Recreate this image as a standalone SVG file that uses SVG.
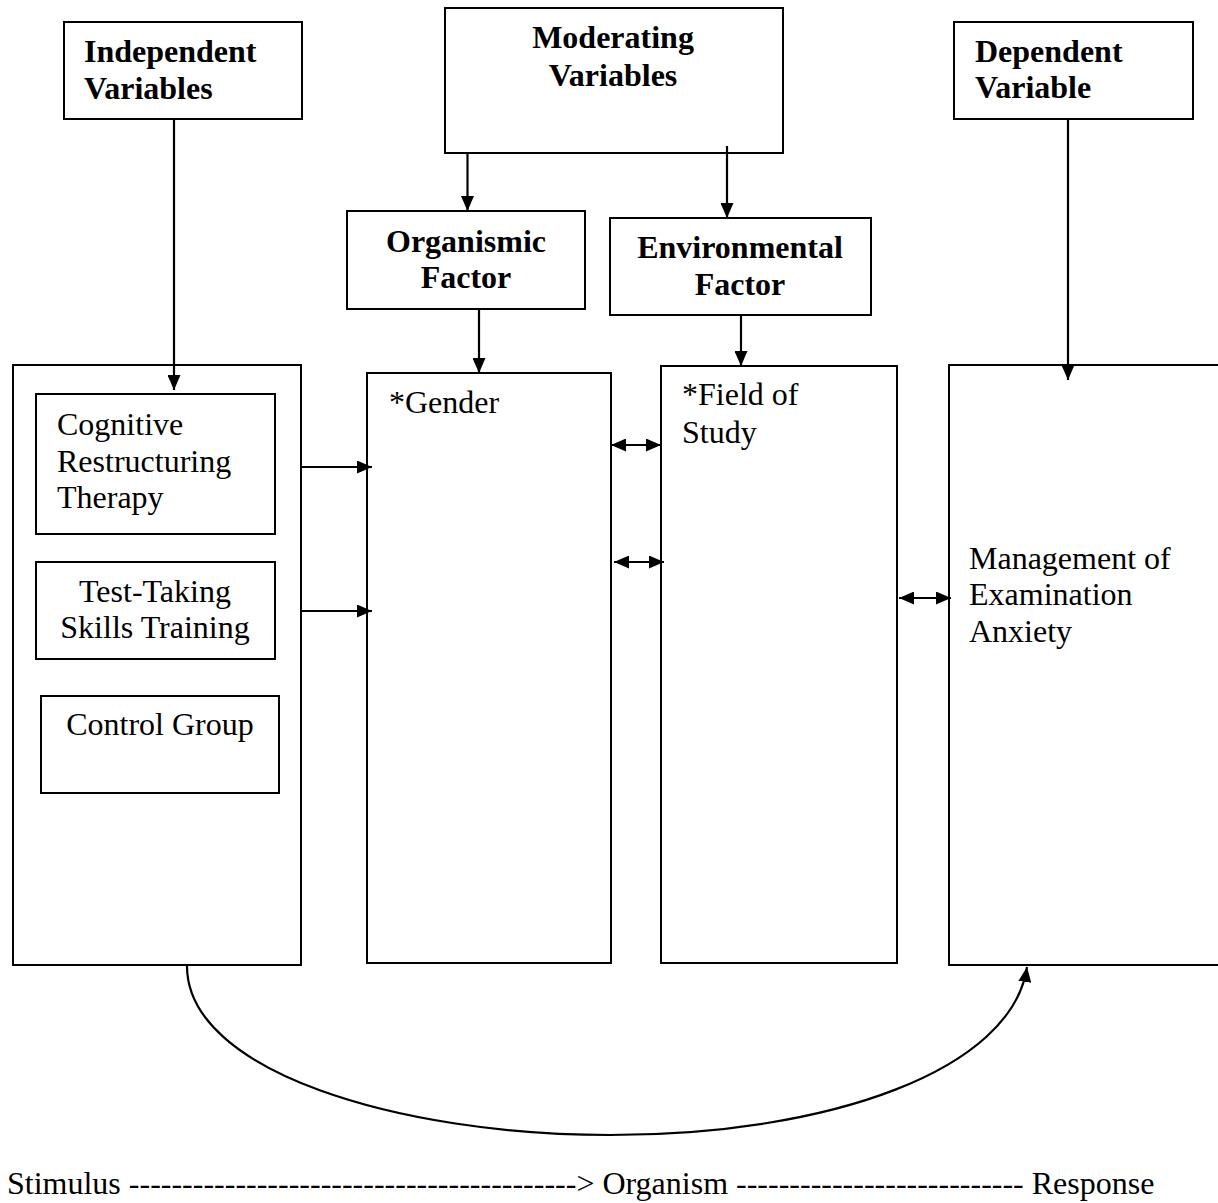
<svg xmlns="http://www.w3.org/2000/svg" width="1218" height="1203" viewBox="0 0 1218 1203">
<style>
rect{fill:#fff;stroke:#000;stroke-width:2}
.c{fill:none;stroke:#000;stroke-width:2.2}
text{font-family:"Liberation Serif","Times New Roman",serif;font-size:32px;fill:#000}
.b{font-weight:bold}
.m{text-anchor:middle}
</style>
<defs>
<marker id="ah" markerWidth="15" markerHeight="13" refX="15" refY="6.5" orient="auto-start-reverse" markerUnits="userSpaceOnUse"><path d="M0,0 L15,6.5 L0,13 z" fill="#000"/></marker>
</defs>
<rect width="1218" height="1203" style="stroke:none"/>
<g id="independent"><rect x="64" y="22" width="238" height="97"/><text class="b" x="84" y="62">Independent</text><text class="b" x="84" y="99">Variables</text></g>
<g id="moderating"><rect x="445" y="8" width="338" height="145"/><text class="b m" x="613" y="48">Moderating</text><text class="b m" x="613" y="86">Variables</text></g>
<g id="dependent"><rect x="954" y="22" width="239" height="97"/><text class="b" x="975" y="62">Dependent</text><text class="b" x="975" y="98">Variable</text></g>
<g id="organismic"><rect x="347" y="211" width="238" height="98"/><text class="b m" x="466" y="252">Organismic</text><text class="b m" x="466" y="288">Factor</text></g>
<g id="environmental"><rect x="610" y="218" width="261" height="97"/><text class="b m" x="740" y="258">Environmental</text><text class="b m" x="740" y="295">Factor</text></g>
<g id="stimulus-box"><rect x="13" y="365" width="288" height="600"/></g>
<g id="cognitive"><rect x="36" y="394" width="239" height="140"/><text x="57" y="435">Cognitive</text><text x="57" y="472">Restructuring</text><text x="57" y="508">Therapy</text></g>
<g id="testtaking"><rect x="36" y="562" width="239" height="97"/><text class="m" x="155" y="602">Test-Taking</text><text class="m" x="155" y="638">Skills Training</text></g>
<g id="control"><rect x="41" y="696" width="238" height="97"/><text class="m" x="160" y="735">Control Group</text></g>
<g id="gender"><rect x="367" y="373" width="244" height="590"/><text x="389" y="413">*Gender</text></g>
<g id="field"><rect x="661" y="366" width="236" height="597"/><text x="682" y="405">*Field of</text><text x="682" y="443">Study</text></g>
<g id="response"><rect x="949" y="365" width="280" height="600"/><text x="969" y="569">Management of</text><text x="969" y="605">Examination</text><text x="969" y="642">Anxiety</text></g>
<g id="connectors">
<line class="c" x1="174" y1="119" x2="174" y2="390" marker-end="url(#ah)"/>
<line class="c" x1="467.5" y1="153" x2="467.5" y2="211" marker-end="url(#ah)"/>
<line class="c" x1="727" y1="146" x2="727" y2="218" marker-end="url(#ah)"/>
<line class="c" x1="1068" y1="119" x2="1068" y2="380" marker-end="url(#ah)"/>
<line class="c" x1="479" y1="309" x2="479" y2="373" marker-end="url(#ah)"/>
<line class="c" x1="741" y1="315" x2="741" y2="366" marker-end="url(#ah)"/>
<line class="c" x1="301" y1="467" x2="372" y2="467" marker-end="url(#ah)"/>
<line class="c" x1="301" y1="611" x2="372" y2="611" marker-end="url(#ah)"/>
<line class="c" x1="611" y1="445" x2="661" y2="445" marker-start="url(#ah)" marker-end="url(#ah)"/>
<line class="c" x1="614" y1="562" x2="664" y2="562" marker-start="url(#ah)" marker-end="url(#ah)"/>
<line class="c" x1="899" y1="598" x2="951" y2="598" marker-start="url(#ah)" marker-end="url(#ah)"/>
<path class="c" d="M187,966 C187,1072 400,1135 610,1135 C830,1135 1012,1070 1027,967" marker-end="url(#ah)"/>
</g>
<text x="7" y="1194">Stimulus ------------------------------------------&gt; Organism --------------------------- Response</text>
</svg>
